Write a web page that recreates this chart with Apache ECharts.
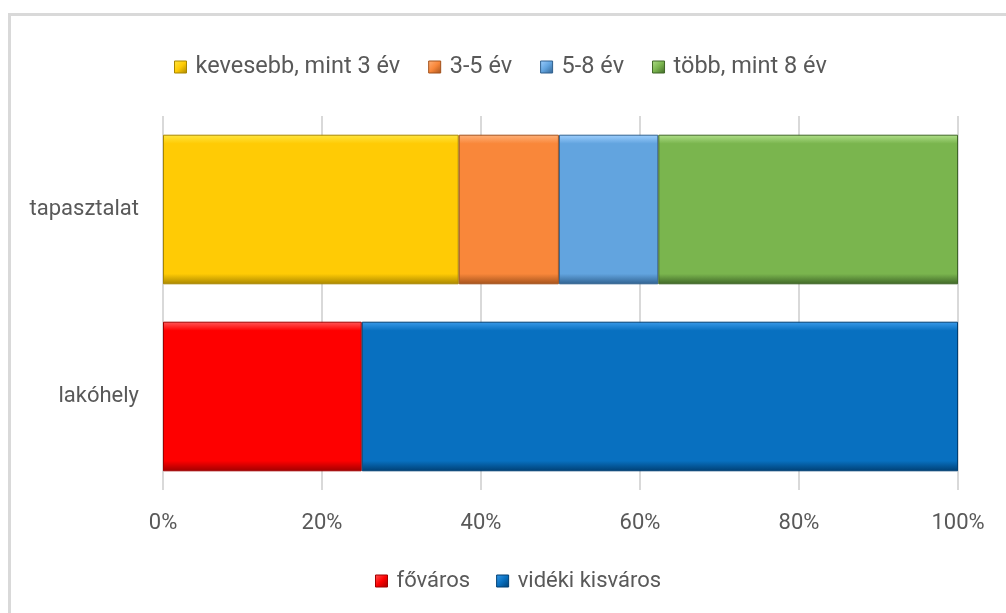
<!DOCTYPE html>
<html>
<head>
<meta charset="utf-8">
<script src="https://cdn.jsdelivr.net/npm/echarts@6/dist/echarts.min.js"></script>
<style>
html, body { margin: 0; padding: 0; background: #fff; }
#frame {
    position: absolute; left: 8px; top: 13px; right: -10px; bottom: -10px;
    border-left: 3px solid #d9d9d9; border-top: 3px solid #d9d9d9;
}
#myChart { position: absolute; left: 0; top: 0; width: 1006px; height: 613px; }
</style>
</head>
<body>
<div id="frame"></div>
<div id="myChart"></div>
<script>
// kategóriák (alulról felfelé, ahogy az echarts y tengelye rakja)
var categories = ['lakóhely', 'tapasztalat'];
var tickLabels = ['0%', '20%', '40%', '60%', '80%', '100%'];

// tapasztalat sorozatok
var kevesebb3 = ['-', 37.2];
var ev3_5 = ['-', 12.6];
var ev5_8 = ['-', 12.5];
var tobb8 = ['-', 37.7];
// lakóhely sorozatok
var fovaros = [25.0, '-'];
var videki = [75.0, '-'];

var topNames = ['kevesebb, mint 3 év', '3-5 év', '5-8 év', 'több, mint 8 év'];
var bottomNames = ['főváros', 'vidéki kisváros'];

// szín: [világos él, alap, sötét él]
var colors = {
    'kevesebb, mint 3 év': ['#ffe640', '#ffcb05', '#a88600'],
    '3-5 év': ['#ffb27a', '#f9873a', '#a3521c'],
    '5-8 év': ['#9fd0ff', '#62a4df', '#30618f'],
    'több, mint 8 év': ['#b1e08a', '#7ab54e', '#3f6627'],
    'főváros': ['#ff5a5a', '#fe0000', '#a00000'],
    'vidéki kisváros': ['#3b9bea', '#0870c0', '#003f73']
};

function bevel(name) {
    var c = colors[name];
    return {
        color: new echarts.graphic.LinearGradient(0, 0, 0, 1, [
            { offset: 0, color: c[0] },
            { offset: 0.06, color: c[1] },
            { offset: 0.93, color: c[1] },
            { offset: 1, color: c[2] }
        ]),
        borderColor: c[2],
        borderWidth: 1
    };
}

function legendIcon(name) {
    var c = colors[name];
    return {
        name: name,
        itemStyle: {
            color: new echarts.graphic.LinearGradient(0, 0, 1, 1, [
                { offset: 0, color: c[0] },
                { offset: 0.5, color: c[1] },
                { offset: 1, color: c[2] }
            ]),
            borderColor: c[2],
            borderWidth: 1
        }
    };
}

var seriesData = [
    [topNames[0], kevesebb3],
    [topNames[1], ev3_5],
    [topNames[2], ev5_8],
    [topNames[3], tobb8],
    [bottomNames[0], fovaros],
    [bottomNames[1], videki]
];

var fontFam = 'Roboto';
var txtColor = '#595959';
var fs = 22;

var option = {
    animation: false,
    textStyle: { fontFamily: fontFam },
    grid: { left: 163, right: 48, top: 116, bottom: 123 },
    legend: [
        {
            data: topNames.map(legendIcon),
            left: 169, top: 50,
            icon: 'rect', itemWidth: 12, itemHeight: 12, itemGap: 28,
            textStyle: { color: txtColor, fontSize: 23.5, fontFamily: fontFam, padding: [0, 0, 0, 4] }
        },
        {
            data: bottomNames.map(legendIcon),
            left: 370, top: 565,
            icon: 'rect', itemWidth: 12, itemHeight: 12, itemGap: 26,
            textStyle: { color: txtColor, fontSize: fs, fontFamily: fontFam, padding: [0, 0, 0, 4] }
        }
    ],
    xAxis: {
        type: 'value',
        min: 0, max: 100, interval: 20,
        axisLine: { show: false },
        axisTick: { show: false },
        splitLine: { lineStyle: { color: '#d9d9d9', width: 2 } },
        axisLabel: {
            color: txtColor, fontSize: fs, margin: 22, fontFamily: fontFam,
            formatter: function (v) { return tickLabels[v / 20]; }
        }
    },
    yAxis: {
        type: 'category',
        data: categories,
        axisLine: { show: false },
        axisTick: { show: false },
        axisLabel: { color: txtColor, fontSize: fs, margin: 24, fontFamily: fontFam }
    },
    series: seriesData.map(function (s) {
        return {
            name: s[0],
            type: 'bar',
            stack: 'total',
            barWidth: '80%',
            itemStyle: bevel(s[0]),
            data: s[1]
        };
    })
};

var myChart = echarts.init(document.getElementById('myChart'));
myChart.setOption(option);
</script>
</body>
</html>
